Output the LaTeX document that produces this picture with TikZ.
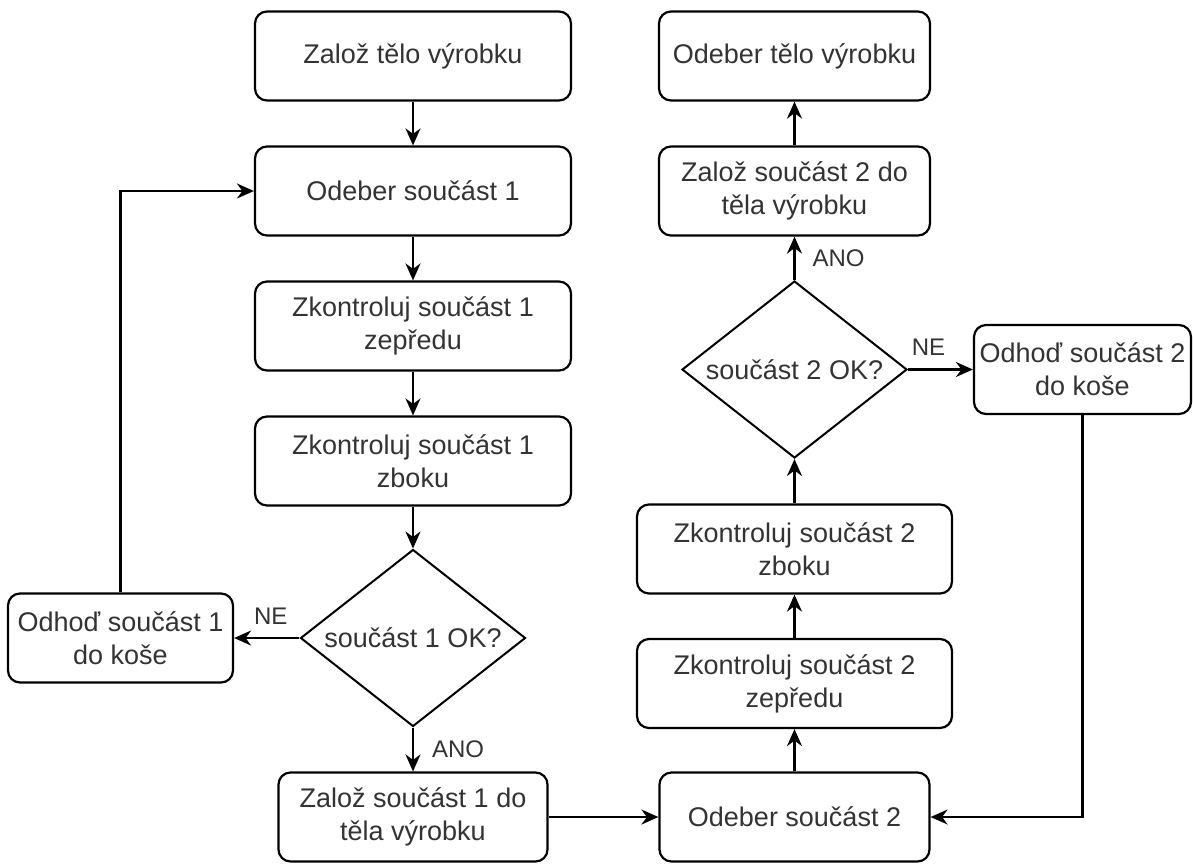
\documentclass[tikz,border=0pt]{standalone}
\usepackage{fontspec}
\setmainfont{Liberation Sans}
\usetikzlibrary{shapes.geometric,arrows.meta}

\begin{document}
\begin{tikzpicture}[x=1pt,y=-1pt,
  box/.style={draw, line width=2.2pt, rounded corners=12pt, minimum height=89pt, inner sep=0pt, align=center, text=black!80, font=\fontsize{27}{33}\selectfont},
  decision/.style={draw, diamond, aspect=1.27, line width=2pt, minimum width=225pt, minimum height=177pt, inner sep=0pt, text=black!80, font=\fontsize{27}{33}\selectfont},
  arr/.style={line width=2.2pt, -{Stealth[length=17pt,width=15pt]}},
  lbl/.style={inner sep=0pt, text=black!80, font=\fontsize{24}{28}\selectfont}]

\useasboundingbox (0,0) rectangle (1193,863);

\node[box, minimum width=316pt] (zaloztelo) at (413,56) {Založ tělo výrobku};
\node[box, minimum width=316pt] (odeber1) at (413,191) {Odeber součást 1};
\node[box, minimum width=316pt] (predni1) at (413,326) {Zkontroluj součást 1\\zepředu};
\node[box, minimum width=316pt] (bok1) at (413,461) {Zkontroluj součást 1\\zboku};
\node[decision] (ok1) at (413,638) {součást 1 OK?};
\node[box, minimum width=225pt] (kos1) at (120.5,638) {Odhoď součást 1\\do koše};
\node[box, minimum width=269pt] (zaloz1) at (413,817) {Založ součást 1 do\\těla výrobku};

\node[box, minimum width=270pt] (odeber2) at (794.5,817) {Odeber součást 2};
\node[box, minimum width=315pt] (predni2) at (794.5,683.5) {Zkontroluj součást 2\\zepředu};
\node[box, minimum width=315pt] (bok2) at (794.5,549) {Zkontroluj součást 2\\zboku};
\node[decision] (ok2) at (794.5,369.5) {součást 2 OK?};
\node[box, minimum width=217pt] (kos2) at (1082.5,369.5) {Odhoď součást 2\\do koše};
\node[box, minimum width=271pt] (zaloz2) at (794.5,191) {Založ součást 2 do\\těla výrobku};
\node[box, minimum width=271pt] (odebertelo) at (794.5,56) {Odeber tělo výrobku};

\draw[arr] (zaloztelo) -- (odeber1);
\draw[arr] (odeber1) -- (predni1);
\draw[arr] (predni1) -- (bok1);
\draw[arr] (bok1) -- (ok1);
\draw[arr] (ok1) -- node[lbl, right, xshift=18pt] {ANO} (zaloz1);
\draw[arr] (ok1) -- node[lbl, above=12pt, xshift=4pt] {NE} (kos1);
\draw[arr] (kos1) |- (odeber1);

\draw[arr] (zaloz1) -- (odeber2);
\draw[arr] (odeber2) -- (predni2);
\draw[arr] (predni2) -- (bok2);
\draw[arr] (bok2) -- (ok2);
\draw[arr] (ok2) -- node[lbl, right, xshift=17pt] {ANO} (zaloz2);
\draw[arr] (ok2) -- node[lbl, above=13pt, xshift=-12pt] {NE} (kos2);
\draw[arr] (kos2) |- (odeber2);
\draw[arr] (zaloz2) -- (odebertelo);

\end{tikzpicture}
\end{document}
